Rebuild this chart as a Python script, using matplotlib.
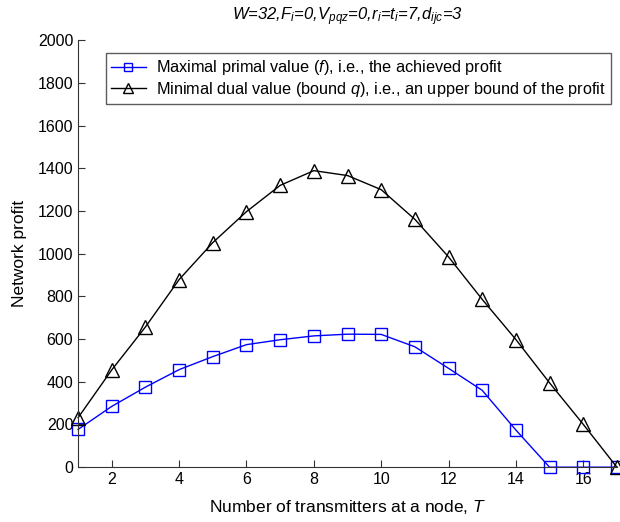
import matplotlib
matplotlib.use("Agg")
from matplotlib import pyplot as plt

plt.rcParams['font.family'] = ['Liberation Sans', 'DejaVu Sans']
plt.rcParams['mathtext.fontset'] = 'custom'
plt.rcParams['mathtext.rm'] = 'Liberation Sans'
plt.rcParams['mathtext.it'] = 'Liberation Sans:italic'

T = list(range(1, 18))
primal = [177, 285, 375, 457, 518, 574, 597, 615, 623, 622, 564, 463, 360, 174, 0, 0, 0]
dual = [232, 456, 657, 879, 1052, 1197, 1320, 1389, 1366, 1300, 1161, 985, 786, 598, 395, 201, 0]

primal_label = "Maximal primal value ($f$), i.e., the achieved profit"
dual_label = "Minimal dual value (bound $q$), i.e., an upper bound of the profit"
title = r"W=32,F$_i$=0,V$_{pqz}$=0,r$_i$=t$_i$=7,d$_{ijc}$=3"

fig = plt.figure(figsize=(6.2, 5.22), dpi=100)
ax = fig.add_axes([0.126, 0.105, 0.869, 0.818])

ax.plot(T, primal, color='blue', lw=1, marker='s', ms=9, mfc='none', mew=1,
        label=primal_label, clip_on=False)
ax.plot(T, dual, color='black', lw=1, marker='^', ms=10, mfc='none', mew=1,
        label=dual_label, clip_on=False)

ax.set_xlim(1, 17)
ax.set_ylim(0, 2000)
ax.set_xticks(range(2, 17, 2))
ax.set_yticks(range(0, 2001, 200))
ax.tick_params(direction='in', labelsize=11.5, length=5, color='#333333')
for side in ['left', 'bottom']:
    ax.spines[side].set_color('#333333')
ax.spines['top'].set_visible(False)
ax.spines['right'].set_visible(False)

ax.set_xlabel("Number of transmitters at a node, $T$", fontsize=12.5, labelpad=8)
ax.set_ylabel("Network profit", fontsize=12.5, labelpad=8)
ax.set_title(title, fontsize=12, style='italic', pad=14)

leg = ax.legend(loc='upper right', bbox_to_anchor=(1.004, 0.988), fontsize=11.7,
                frameon=True, fancybox=False, edgecolor='#333333', markerscale=0.7,
                handlelength=2.2, borderpad=0.3, labelspacing=0.15, handletextpad=0.6)
leg.get_frame().set_linewidth(1.0)

fig.savefig("out.png", dpi=100)
